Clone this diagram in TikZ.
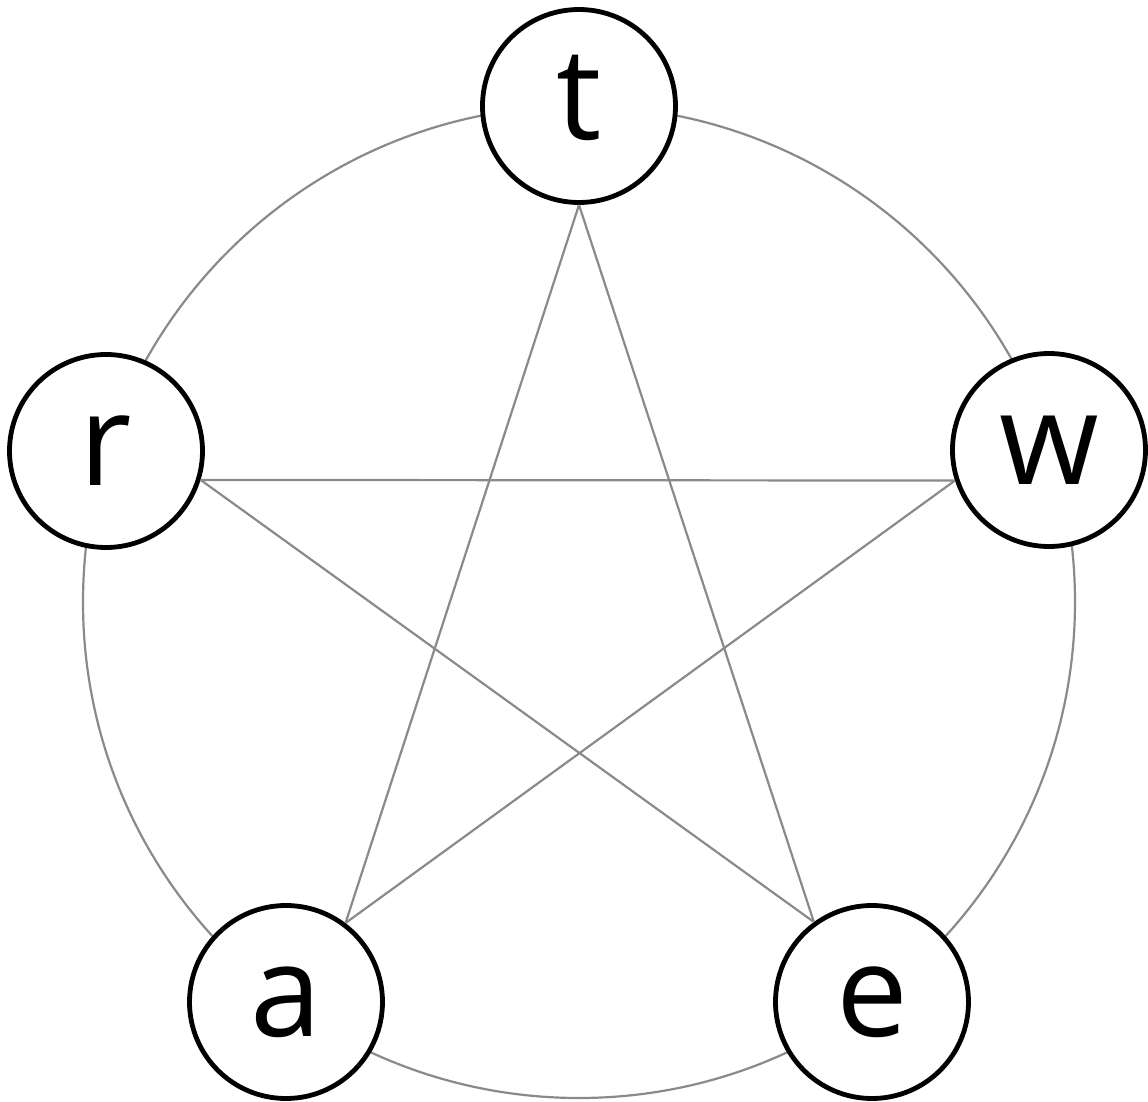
\documentclass[tikz,border=0pt]{standalone}
\usepackage{fontspec}
\setmainfont{Open Sans}
\definecolor{edgegray}{HTML}{8A8A8A}
\begin{document}
\begin{tikzpicture}[x=0.5pt,y=-0.5pt,
  vtx/.style={circle,draw=black,line width=2.4pt,fill=white,minimum size=96.5pt,inner sep=0pt,
    font=\fontsize{64}{64}\selectfont,text height=34pt,text depth=0pt},
  edge/.style={draw=edgegray,line width=1.1pt}]
\useasboundingbox (0,0) rectangle (1148,1102);
\coordinate (c) at (579,602);
\draw[edge] (c) circle[radius=248pt];
\node[vtx] (t) at (579,106) {t};
\node[vtx] (w) at (1049,450) {w};
\node[vtx] (e) at (872,1002) {e};
\node[vtx] (a) at (286,1002) {a};
\node[vtx] (r) at (106,451) {r};
\draw[edge] (t.-90) -- (a.53.8);
\draw[edge] (t.-90) -- (e.126.2);
\draw[edge] (r.-17.9) -- (w.-162.1);
\draw[edge] (r.-17.9) -- (e.126.2);
\draw[edge] (w.-162.1) -- (a.53.8);
\end{tikzpicture}
\end{document}
